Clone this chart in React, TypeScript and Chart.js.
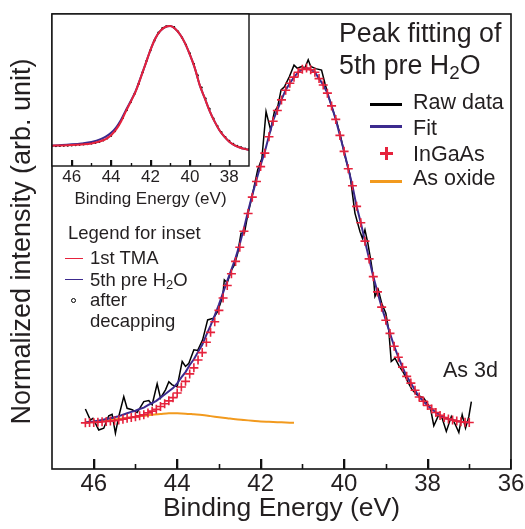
import React, { useEffect, useRef } from "react";
import { Chart, registerables } from "chart.js";
Chart.register(...registerables);

const FONT = "'Liberation Sans', Arial, sans-serif";
const TEXT = "#231f20";
const RED = "#e6223c";
const INDIGO = "#3c2a8e";
const ORANGE = "#f29a1e";

// ---------- main plot data ----------
const fitEnergy = [46.2, 46.1, 46.0, 45.9, 45.8, 45.7, 45.6, 45.5, 45.4, 45.3, 45.2, 45.1, 45.0, 44.9, 44.8, 44.7, 44.6, 44.5, 44.4, 44.3, 44.2, 44.1, 44.0, 43.9, 43.8, 43.7, 43.6, 43.5, 43.4, 43.3, 43.2, 43.1, 43.0, 42.9, 42.8, 42.7, 42.6, 42.5, 42.4, 42.3, 42.2, 42.1, 42.0, 41.9, 41.8, 41.7, 41.6, 41.5, 41.4, 41.3, 41.2, 41.1, 41.0, 40.9, 40.8, 40.7, 40.6, 40.5, 40.4, 40.3, 40.2, 40.1, 40.0, 39.9, 39.8, 39.7, 39.6, 39.5, 39.4, 39.3, 39.2, 39.1, 39.0, 38.9, 38.8, 38.7, 38.6, 38.5, 38.4, 38.3, 38.2, 38.1, 38.0, 37.9, 37.8, 37.7, 37.6, 37.5, 37.4, 37.3, 37.2, 37.1, 37.0];

const ingaasValues = [0.000, 0.001, 0.001, 0.002, 0.003, 0.004, 0.005, 0.006, 0.008, 0.010, 0.013, 0.015, 0.017, 0.020, 0.023, 0.028, 0.033, 0.038, 0.046, 0.054, 0.062, 0.071, 0.084, 0.101, 0.117, 0.138, 0.155, 0.177, 0.198, 0.227, 0.255, 0.285, 0.317, 0.352, 0.387, 0.420, 0.455, 0.495, 0.540, 0.590, 0.636, 0.680, 0.722, 0.760, 0.806, 0.850, 0.880, 0.910, 0.937, 0.957, 0.974, 0.988, 0.996, 1.000, 0.995, 0.988, 0.970, 0.952, 0.929, 0.893, 0.855, 0.810, 0.765, 0.716, 0.668, 0.610, 0.564, 0.512, 0.462, 0.412, 0.369, 0.326, 0.289, 0.252, 0.216, 0.185, 0.157, 0.131, 0.112, 0.092, 0.073, 0.061, 0.049, 0.039, 0.029, 0.021, 0.015, 0.011, 0.008, 0.005, 0.003, 0.002, 0.001];

const fitValues = [0.001, 0.003, 0.004, 0.006, 0.008, 0.011, 0.013, 0.016, 0.019, 0.023, 0.027, 0.031, 0.034, 0.039, 0.043, 0.050, 0.056, 0.062, 0.071, 0.080, 0.089, 0.098, 0.111, 0.128, 0.143, 0.163, 0.179, 0.200, 0.220, 0.248, 0.274, 0.303, 0.333, 0.367, 0.400, 0.432, 0.465, 0.504, 0.548, 0.597, 0.642, 0.685, 0.726, 0.764, 0.809, 0.852, 0.882, 0.911, 0.938, 0.957, 0.974, 0.988, 0.996, 1.000, 0.995, 0.988, 0.970, 0.952, 0.929, 0.893, 0.855, 0.810, 0.765, 0.716, 0.668, 0.610, 0.564, 0.512, 0.462, 0.412, 0.369, 0.326, 0.289, 0.252, 0.216, 0.185, 0.157, 0.131, 0.112, 0.092, 0.073, 0.061, 0.049, 0.039, 0.029, 0.021, 0.015, 0.011, 0.008, 0.005, 0.003, 0.002, 0.001];

const oxideEnergy = [46.2, 46.0, 45.8, 45.6, 45.4, 45.2, 45.0, 44.8, 44.6, 44.4, 44.2, 44.0, 43.8, 43.6, 43.4, 43.2, 43.0, 42.8, 42.6, 42.4, 42.2, 42.0, 41.8, 41.6, 41.4, 41.2];
const oxideValues = [0.001, 0.003, 0.005, 0.008, 0.011, 0.014, 0.017, 0.020, 0.023, 0.025, 0.027, 0.027, 0.026, 0.024, 0.022, 0.019, 0.016, 0.013, 0.010, 0.008, 0.006, 0.004, 0.003, 0.002, 0.001, 0.000];

const rawEnergy = [46.20, 46.08, 46.02, 45.88, 45.76, 45.64, 45.56, 45.48, 45.40, 45.28, 45.20, 45.08, 44.96, 44.80, 44.68, 44.60, 44.48, 44.40, 44.28, 44.20, 44.12, 44.00, 43.88, 43.80, 43.72, 43.60, 43.51, 43.39, 43.27, 43.13, 43.03, 42.91, 42.87, 42.80, 42.70, 42.63, 42.55, 42.47, 42.39, 42.31, 42.19, 42.07, 41.97, 41.87, 41.76, 41.67, 41.59, 41.51, 41.43, 41.31, 41.20, 41.12, 41.02, 40.94, 40.86, 40.80, 40.68, 40.54, 40.46, 40.37, 40.28, 40.18, 40.08, 39.98, 39.86, 39.74, 39.62, 39.56, 39.50, 39.43, 39.35, 39.29, 39.26, 39.18, 39.10, 39.00, 38.93, 38.87, 38.78, 38.68, 38.57, 38.47, 38.37, 38.25, 38.09, 37.93, 37.85, 37.73, 37.65, 37.55, 37.43, 37.33, 37.25, 37.17, 37.09, 37.01, 36.95];
const rawValues = [0.039, 0.008, 0.013, -0.020, -0.015, 0.020, 0.024, -0.029, 0.018, 0.074, 0.041, 0.037, 0.029, 0.060, 0.063, 0.051, 0.110, 0.070, 0.093, 0.116, 0.107, 0.102, 0.173, 0.159, 0.168, 0.206, 0.204, 0.234, 0.290, 0.295, 0.314, 0.356, 0.403, 0.395, 0.430, 0.445, 0.478, 0.534, 0.534, 0.585, 0.647, 0.713, 0.745, 0.877, 0.825, 0.877, 0.891, 0.938, 0.947, 0.976, 1.008, 0.999, 1.004, 1.000, 1.023, 1.004, 0.998, 0.994, 0.957, 0.919, 0.885, 0.850, 0.805, 0.752, 0.700, 0.591, 0.539, 0.520, 0.544, 0.506, 0.450, 0.403, 0.356, 0.375, 0.337, 0.309, 0.262, 0.173, 0.182, 0.160, 0.140, 0.115, 0.093, 0.079, 0.070, 0.041, -0.008, 0.023, 0.013, -0.024, 0.018, -0.006, -0.027, 0.023, -0.015, 0.018, 0.060];

const mainTickLabels = ["46", "44", "42", "40", "38", "36"];
const mainMajorTicks = [46, 44, 42, 40, 38];
const mainMinorTicks = [45, 43, 41, 39, 37];

// ---------- inset data ----------
const insetEnergy = [47.0, 46.5, 46.0, 45.5, 45.0, 44.5, 44.25, 44.0, 43.75, 43.5, 43.25, 43.0, 42.75, 42.5, 42.25, 42.0, 41.75, 41.5, 41.25, 41.0, 40.75, 40.5, 40.25, 40.0, 39.75, 39.5, 39.25, 39.0, 38.75, 38.5, 38.25, 38.0, 37.75, 37.5, 37.25, 37.0];
const tmaValues = [0.019, 0.021, 0.024, 0.029, 0.037, 0.057, 0.075, 0.105, 0.15, 0.215, 0.30, 0.38, 0.465, 0.575, 0.69, 0.805, 0.9, 0.96, 0.992, 1.0, 0.978, 0.93, 0.86, 0.765, 0.655, 0.515, 0.41, 0.305, 0.218, 0.146, 0.093, 0.052, 0.024, 0.006, -0.007, -0.015];
const preH2OValues = [0.02, 0.024, 0.03, 0.038, 0.05, 0.075, 0.095, 0.125, 0.168, 0.23, 0.31, 0.385, 0.468, 0.577, 0.69, 0.805, 0.9, 0.96, 0.992, 1.0, 0.978, 0.93, 0.86, 0.765, 0.655, 0.515, 0.41, 0.305, 0.218, 0.146, 0.093, 0.052, 0.024, 0.006, -0.007, -0.015];
const decapEnergy = [47.0, 46.8, 46.6, 46.4, 46.2, 46.0, 45.8, 45.6, 45.4, 45.2, 45.0, 44.8, 44.6, 44.4, 44.2, 44.0, 43.8, 43.6, 43.4, 43.2, 43.0, 42.8, 42.6, 42.4, 42.2, 42.0, 41.8, 41.6, 41.4, 41.2, 41.0, 40.8, 40.6, 40.4, 40.2, 40.0, 39.8, 39.6, 39.4, 39.2, 39.0, 38.8, 38.6, 38.4, 38.2, 38.0, 37.8, 37.6, 37.4, 37.2, 37.0];
const decapValues = [0.015, 0.016, 0.017, 0.018, 0.019, 0.021, 0.023, 0.026, 0.029, 0.032, 0.036, 0.042, 0.05, 0.062, 0.078, 0.1, 0.138, 0.19, 0.245, 0.31, 0.375, 0.445, 0.525, 0.62, 0.715, 0.8, 0.88, 0.945, 0.982, 0.998, 1.0, 0.99, 0.955, 0.905, 0.845, 0.775, 0.69, 0.595, 0.495, 0.405, 0.32, 0.242, 0.18, 0.13, 0.09, 0.058, 0.034, 0.017, 0.006, -0.004, -0.012];
const insetTickLabels = ["46", "44", "42", "40", "38"];
const insetMajorTicks = [46, 44, 42, 40, 38];
const insetMinorTicks = [45, 43, 41, 39];

const toPts = (xs: number[], ys: number[]) => xs.map((x, i) => ({ x, y: ys[i] }));

function makeFrame(id: string, lineWidth: number, majorLen: number, minorLen: number, majors: number[], minors: number[], fill: boolean) {
  return {
    id,
    beforeDraw(chart: any) {
      if (!fill) return;
      const { ctx, chartArea: ca } = chart;
      ctx.save();
      ctx.fillStyle = "#ffffff";
      ctx.fillRect(ca.left, ca.top, ca.right - ca.left, ca.bottom - ca.top);
      ctx.restore();
    },
    afterDraw(chart: any) {
      const ctx = chart.ctx;
      const ca = chart.chartArea;
      const xs = chart.scales["x"];
      ctx.save();
      ctx.strokeStyle = "#111111";
      ctx.lineWidth = lineWidth;
      const drawSet = (list: number[], len: number) => {
        list.forEach((v) => {
          const px = Math.round(xs.getPixelForValue(v)) + 0.5;
          if (px <= ca.left + 1 || px >= ca.right - 1) return;
          ctx.beginPath();
          ctx.moveTo(px, ca.bottom);
          ctx.lineTo(px, ca.bottom - len);
          ctx.stroke();
        });
      };
      try {
        drawSet(majors, majorLen);
        drawSet(minors, minorLen);
      } catch (e) {
        // ignore
      }
      ctx.strokeRect(ca.left, ca.top, ca.right - ca.left, ca.bottom - ca.top);
      ctx.restore();
    },
  };
}

const labelFor = (labels: string[]) => (v: any) => {
  const s = String(v);
  return labels.includes(s) ? s : "";
};

const majorTickColor = (c: any) =>
  c && c.tick && Math.round(c.tick.value) % 2 === 0 ? "#111111" : "rgba(0,0,0,0)";

function Txt({ left, top, size, children }: any) {
  return (
    <div
      style={{
        position: "absolute",
        left,
        top,
        fontSize: size,
        lineHeight: `${size}px`,
        fontFamily: FONT,
        color: TEXT,
        whiteSpace: "nowrap",
      }}
    >
      {children}
    </div>
  );
}

const Sub = ({ children }: any) => (
  <span style={{ fontSize: "0.7em", position: "relative", top: "0.28em" }}>{children}</span>
);

function Bar({ left, top, width, height, color }: any) {
  return <div style={{ position: "absolute", left, top, width, height, background: color }} />;
}

export default function App() {
  const mainRef = useRef<HTMLCanvasElement>(null);
  const insetRef = useRef<HTMLCanvasElement>(null);

  useEffect(() => {
    Chart.defaults.font.family = FONT;
    Chart.defaults.color = TEXT;

    const main = new Chart(mainRef.current as HTMLCanvasElement, {
      type: "line",
      data: {
        datasets: [
          {
            label: "InGaAs",
            data: toPts(fitEnergy, ingaasValues),
            showLine: false,
            pointStyle: "cross",
            pointRadius: 4.5,
            pointBorderWidth: 1.6,
            pointBorderColor: RED,
            pointBackgroundColor: RED,
            borderColor: RED,
          },
          {
            label: "Fit",
            data: toPts(fitEnergy, fitValues),
            borderColor: INDIGO,
            borderWidth: 2,
            pointRadius: 0,
            tension: 0,
          },
          {
            label: "As oxide",
            data: toPts(oxideEnergy, oxideValues),
            borderColor: ORANGE,
            borderWidth: 2,
            pointRadius: 0,
            tension: 0.3,
          },
          {
            label: "Raw data",
            data: toPts(rawEnergy, rawValues),
            borderColor: "#000",
            borderWidth: 1.5,
            pointRadius: 0,
            tension: 0,
          },
        ],
      },
      options: {
        animation: false,
        responsive: false,
        devicePixelRatio: 1,
        layout: { padding: { left: 0, right: 14, top: 14, bottom: 0 } },
        plugins: {
          legend: { display: false },
          tooltip: { enabled: false },
        },
        scales: {
          x: {
            type: "linear",
            min: 36,
            max: 47,
            reverse: true,
            grid: {
              display: true,
              drawOnChartArea: false,
              drawTicks: true,
              tickLength: -10,
              tickWidth: 1.6,
              lineWidth: 1.6,
              tickColor: majorTickColor,
            },
            border: { display: false },
            ticks: {
              stepSize: 1,
              autoSkip: false,
              maxRotation: 0,
              padding: 11,
              color: TEXT,
              font: { size: 24 },
              callback: labelFor(mainTickLabels),
            },
            title: {
              display: true,
              text: "Binding Energy (eV)",
              color: TEXT,
              font: { size: 26.5 },
              padding: { top: 0, bottom: 4 },
            },
            afterFit: (s: any) => {
              s.height = 60;
              s.paddingLeft = 0;
              s.paddingRight = 0;
            },
          },
          y: {
            type: "linear",
            min: -0.13,
            max: 1.152,
            grid: { display: false, drawTicks: false },
            border: { display: false },
            ticks: { display: false },
            title: {
              display: true,
              text: "Normalized intensity (arb. unit)",
              color: TEXT,
              font: { size: 27 },
              padding: { top: 6, bottom: 0 },
            },
            afterFit: (s: any) => {
              s.width = 52;
              s.paddingTop = 0;
              s.paddingBottom = 0;
            },
          },
        },
      } as any,
      plugins: [makeFrame("mainFrame", 1.6, 10, 5, mainMajorTicks, mainMinorTicks, false)],
    });

    const inset = new Chart(insetRef.current as HTMLCanvasElement, {
      type: "line",
      data: {
        datasets: [
          {
            label: "1st TMA",
            data: toPts(insetEnergy, tmaValues),
            borderColor: RED,
            borderWidth: 2,
            pointRadius: 0,
            cubicInterpolationMode: "monotone",
          },
          {
            label: "after decapping",
            data: toPts(decapEnergy, decapValues),
            showLine: false,
            pointRadius: 1.1,
            pointBorderWidth: 0,
            pointBackgroundColor: "#000",
            borderColor: "#000",
          },
          {
            label: "5th pre H2O",
            data: toPts(insetEnergy, preH2OValues),
            borderColor: INDIGO,
            borderWidth: 2,
            pointRadius: 0,
            cubicInterpolationMode: "monotone",
          },
        ],
      },
      options: {
        animation: false,
        responsive: false,
        devicePixelRatio: 1,
        layout: { padding: { left: 52, right: 11, top: 14, bottom: 0 } },
        plugins: {
          legend: { display: false },
          tooltip: { enabled: false },
        },
        scales: {
          x: {
            type: "linear",
            min: 37,
            max: 47,
            reverse: true,
            grid: {
              display: true,
              drawOnChartArea: false,
              drawTicks: true,
              tickLength: -6,
              tickWidth: 1.4,
              lineWidth: 1.4,
              tickColor: majorTickColor,
            },
            border: { display: false },
            ticks: {
              stepSize: 1,
              autoSkip: false,
              maxRotation: 0,
              padding: 7,
              color: TEXT,
              font: { size: 17 },
              callback: labelFor(insetTickLabels),
            },
            title: {
              display: true,
              text: "Binding Energy (eV)",
              color: TEXT,
              font: { size: 17 },
              padding: { top: 0, bottom: 5 },
            },
            afterFit: (s: any) => {
              s.height = 49;
              s.paddingLeft = 0;
              s.paddingRight = 0;
            },
          },
          y: {
            type: "linear",
            display: false,
            min: -0.1475,
            max: 1.0984,
          },
        },
      } as any,
      plugins: [makeFrame("insetFrame", 1.4, 6, 3, insetMajorTicks, insetMinorTicks, true)],
    });

    return () => {
      main.destroy();
      inset.destroy();
    };
  }, []);

  return (
    <div
      style={{
        position: "fixed",
        left: 0,
        top: 0,
        width: 525,
        height: 529,
        background: "#fff",
        overflow: "hidden",
      }}
    >
      <canvas ref={mainRef} width={525} height={529} style={{ position: "absolute", left: 0, top: 0 }} />
      <canvas ref={insetRef} width={260} height={215} style={{ position: "absolute", left: 0, top: 0 }} />

      {/* main title */}
      <Txt left={339} top={19.5} size={26.8}>Peak fitting of</Txt>
      <Txt left={339} top={52} size={26.8}>
        5th pre H<Sub>2</Sub>O
      </Txt>

      {/* main legend */}
      <Bar left={370} top={102.5} width={32} height={3} color="#000" />
      <Txt left={413} top={91.8} size={21.5}>Raw data</Txt>
      <Bar left={370} top={125.2} width={32} height={3} color={INDIGO} />
      <Txt left={413} top={117.8} size={21.5}>Fit</Txt>
      <Bar left={380} top={151.8} width={12.5} height={3} color={RED} />
      <Bar left={384.7} top={147} width={3} height={13} color={RED} />
      <Txt left={413} top={143.5} size={21.5}>InGaAs</Txt>
      <Bar left={370} top={179.5} width={32} height={3} color={ORANGE} />
      <Txt left={413} top={168.1} size={21.5}>As oxide</Txt>

      <Txt left={443} top={359.8} size={21.5}>As 3d</Txt>

      {/* inset legend */}
      <Txt left={68} top={224} size={18.5}>Legend for inset</Txt>
      <Bar left={65} top={257.5} width={18} height={1.8} color={RED} />
      <Txt left={90} top={248.8} size={18.5}>1st TMA</Txt>
      <Bar left={65} top={278.5} width={18} height={1.8} color={INDIGO} />
      <Txt left={90} top={270.5} size={18.5}>
        5th pre H<Sub>2</Sub>O
      </Txt>
      <div
        style={{
          position: "absolute",
          left: 70.5,
          top: 298,
          width: 3.4,
          height: 3.4,
          border: "1.3px solid #000",
          borderRadius: "50%",
        }}
      />
      <Txt left={90} top={290.5} size={18.5}>after</Txt>
      <Txt left={90} top={312} size={18.5}>decapping</Txt>
    </div>
  );
}
